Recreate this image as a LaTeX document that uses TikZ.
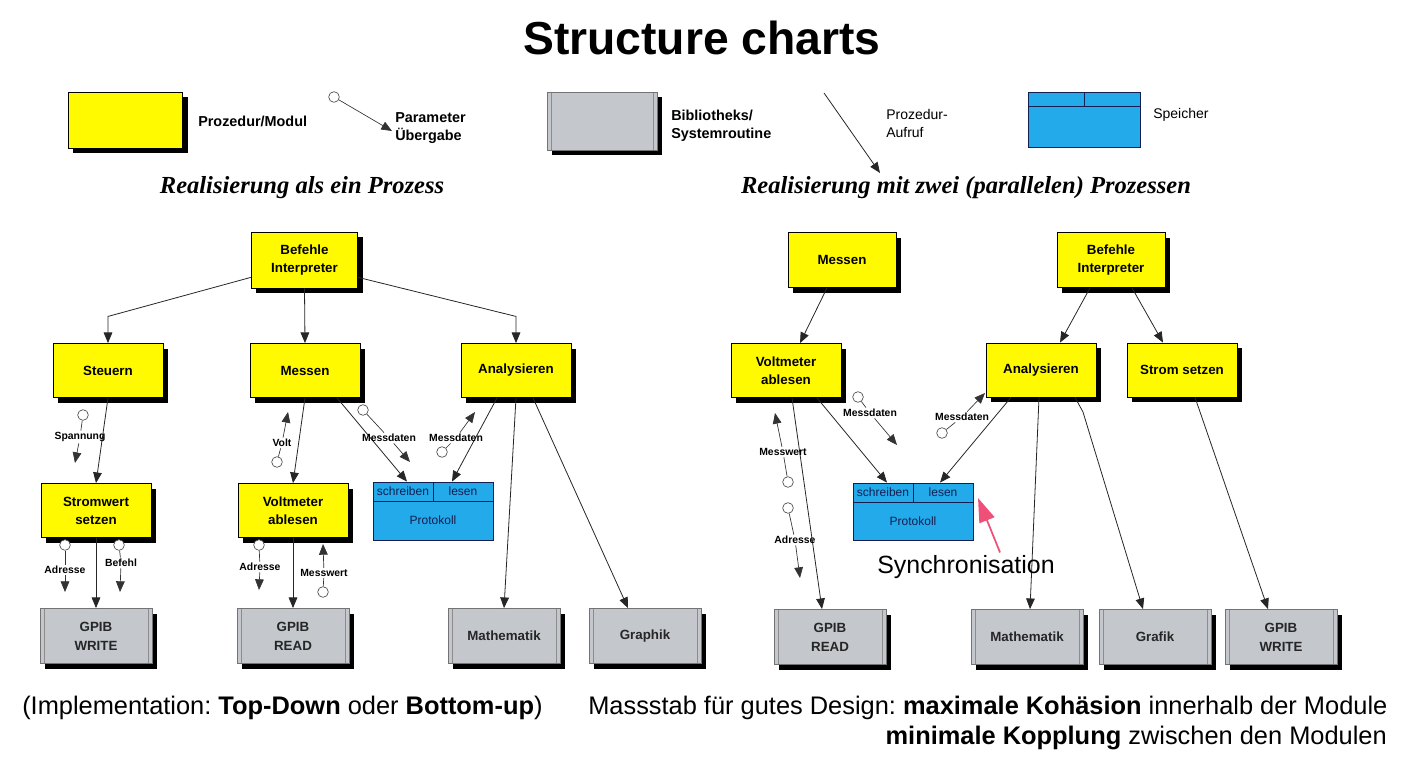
\documentclass[tikz,border=0pt]{standalone}
\usepackage{fontspec}
\setmainfont{Liberation Sans}
\newfontfamily\tnr{Liberation Serif}
\usetikzlibrary{arrows.meta,shadows,calc}
\definecolor{ylw}{RGB}{255,250,0}
\definecolor{blu}{RGB}{35,170,235}
\definecolor{navy}{RGB}{20,30,80}
\definecolor{libgray}{RGB}{196,200,205}
\definecolor{synpink}{RGB}{238,80,120}
\frenchspacing
\begin{document}
\begin{tikzpicture}[x=0.75pt,y=-0.75pt,
 modul/.style={draw=black,line width=0.6pt,fill=ylw,minimum width=82.5pt,minimum height=40.5pt,align=center,inner sep=1pt,
   font=\fontsize{10}{13.5}\selectfont\bfseries,
   drop shadow={shadow xshift=3.75pt,shadow yshift=-3.75pt,fill=black,opacity=1}},
 lib/.style={draw=black!55,line width=0.6pt,fill=libgray,minimum width=84pt,minimum height=41.25pt,align=center,inner sep=1pt,
   font=\fontsize{10}{14.25}\selectfont\bfseries,text=black!85,
   drop shadow={shadow xshift=3.75pt,shadow yshift=-3.75pt,fill=black,opacity=1},
   path picture={\draw[black!45,line width=0.5pt]
     ([xshift=3pt]path picture bounding box.north west) -- ([xshift=3pt]path picture bounding box.south west)
     ([xshift=-3pt]path picture bounding box.north east) -- ([xshift=-3pt]path picture bounding box.south east);}},
 cell/.style={draw=navy,line width=0.6pt,fill=blu,text=navy,inner sep=0pt,font=\fontsize{9}{10}\selectfont},
 call/.style={draw=black!85,line width=0.6pt,-{Triangle[length=8pt,width=6.5pt]}},
 pline/.style={draw=black!80,line width=0.5pt},
 parr/.style={pline,-{Triangle[length=8pt,width=6.5pt]}},
 pcirc/.style={circle,draw=black!70,fill=white,line width=0.5pt,minimum size=8pt,inner sep=0pt},
 plab/.style={font=\fontsize{7.8}{9}\selectfont\bfseries,inner sep=1pt},
 lgd/.style={font=\fontsize{10.8}{13.5}\selectfont\bfseries,align=left,anchor=west,inner sep=0pt},
 lgdr/.style={font=\fontsize{10.5}{13.5}\selectfont,align=left,anchor=west,inner sep=0pt},
 subt/.style={font=\tnr\bfseries\itshape\fontsize{18.4}{22}\selectfont},
 bottxt/.style={font=\fontsize{19.05}{22}\selectfont,inner sep=0pt}
]
\useasboundingbox (0,0) rectangle (1426,759);

% Title
\node[font=\bfseries\fontsize{34.7}{40}\selectfont] (title) at (702,38) {Structure charts};

% ---------------- Legend ----------------
\node[modul,minimum width=86pt,minimum height=42pt] (lgmod) at (125.5,120) {};
\node[lgd] (lgmodt) at (198,121) {Prozedur/Modul};
\node[pcirc] (lgpc) at (334,97) {};
\coordinate (lgpt) at (392,131);
\draw[parr] (lgpc) -- (lgpt);
\node[lgd] (lgpt1) at (395,128) {Parameter\\Übergabe};
\node[lib,minimum width=82.5pt,minimum height=43.5pt] (lglib) at (602,121) {};
\node[lgd] (lglibt) at (671,125.5) {Bibliotheks/\\Systemroutine};
\coordinate (lgcs) at (824,93);
\coordinate (lgce) at (880,173);
\draw[call] (lgcs) -- (lgce);
\node[lgdr] (lgcallt) at (886,123.5) {Prozedur-\\Aufruf};
\node[cell,minimum width=42pt,minimum height=10.5pt] (lgs1) at (1056,99) {};
\node[cell,minimum width=42pt,minimum height=10.5pt] (lgs2) at (1112,99) {};
\node[cell,minimum width=84pt,minimum height=30.75pt] (lgs3) at (1084,126.5) {};
\node[lgdr] (lgst) at (1153,115) {Speicher};

% Subtitles
\node[subt] (sub1) at (302,188) {Realisierung als ein Prozess};
\node[subt] (sub2) at (966,188) {Realisierung mit zwei (parallelen) Prozessen};

% ---------------- Left diagram ----------------
\node[modul,minimum width=80pt,minimum height=42pt] (biL) at (304.5,260) {Befehle\\Interpreter};
\node[modul] (steu) at (108,370.5) {Steuern};
\node[modul] (messL) at (305,370.5) {Messen};
\node[modul] (anaL) at (516,370.5) {Analysieren};
\node[modul] (strom) at (96,510.5) {Stromwert\\setzen};
\node[modul] (voltL) at (293,510.5) {Voltmeter\\ablesen};
\node[cell,minimum width=45pt,minimum height=14.25pt] (schL) at (403,491.5) {schreiben};
\node[cell,minimum width=45pt,minimum height=14.25pt] (lesL) at (463,491.5) {lesen};
\node[cell,minimum width=90pt,minimum height=29.25pt] (protL) at (433,520.5) {Protokoll};
\node[lib] (gwL) at (96,636) {GPIB\\WRITE};
\node[lib] (grL) at (293,636) {GPIB\\READ};
\node[lib] (mathL) at (504,636) {Mathematik};
\node[lib] (graph) at (645,636) {Graphik};

\draw[call] ([yshift=8.25pt]biL.south west) -- ([yshift=20pt]steu.north) -- (steu.north);
\draw[call] (biL.south) -- (messL.north);
\draw[call] ([yshift=8.25pt]biL.south east) -- ([yshift=20pt]anaL.north) -- (anaL.north);
\draw[call] (steu.south) -- (strom.north);
\draw[call] (strom.south) -- (gwL.north);
\draw[call] (messL.south) -- (voltL.north);
\draw[call] (voltL.south) -- (grL.north);
\draw[call] ([xshift=24pt]messL.south) -- ([xshift=3pt]schL.north);
\draw[call] ([xshift=-14.25pt]anaL.south) -- ([xshift=-8.25pt]lesL.north);
\draw[call] (anaL.south) -- (mathL.north);
\draw[call] ([xshift=12.75pt]anaL.south) -- ([xshift=-12.75pt]graph.north);

% parameters left
\node[pcirc] (pc1) at (83,415) {};
\node[plab] (pl1) at (80,437) {Spannung};
\coordinate (pt1) at (75,463);
\draw[pline] (pc1) -- (pl1); \draw[parr] (pl1) -- (pt1);

\node[pcirc] (pc2) at (65,545) {};
\node[plab] (pl2) at (65,570) {Adresse};
\coordinate (pt2) at (65,592);
\draw[pline] (pc2) -- (pl2); \draw[parr] (pl2) -- (pt2);

\node[pcirc] (pc3) at (119,545) {};
\node[plab] (pl3) at (121,563) {Befehl};
\coordinate (pt3) at (120,592);
\draw[pline] (pc3) -- (pl3); \draw[parr] (pl3) -- (pt3);

\node[pcirc] (pc4) at (277,462) {};
\node[plab] (pl4) at (282,443) {Volt};
\coordinate (pt4) at (288,412);
\draw[pline] (pc4) -- (pl4); \draw[parr] (pl4) -- (pt4);

\node[pcirc] (pc5) at (259,545) {};
\node[plab] (pl5) at (260,567) {Adresse};
\coordinate (pt5) at (259,590);
\draw[pline] (pc5) -- (pl5); \draw[parr] (pl5) -- (pt5);

\node[pcirc] (pc6) at (323,592) {};
\node[plab] (pl6) at (324,573) {Messwert};
\coordinate (pt6) at (323,544);
\draw[pline] (pc6) -- (pl6); \draw[parr] (pl6) -- (pt6);

\node[pcirc] (pc7) at (363,410) {};
\node[plab] (pl7) at (389,438) {Messdaten};
\coordinate (pt7) at (410,462);
\draw[pline] (pc7) -- (pl7); \draw[parr] (pl7) -- (pt7);

\node[pcirc] (pc8) at (442,452) {};
\node[plab] (pl8) at (456,438) {Messdaten};
\coordinate (pt8) at (475,412);
\draw[pline] (pc8) -- (pl8); \draw[parr] (pl8) -- (pt8);

% ---------------- Right diagram ----------------
\node[modul,minimum width=81pt,minimum height=41.25pt] (messR) at (842,260) {Messen};
\node[modul,minimum width=81pt,minimum height=41.25pt] (biR) at (1111,260) {Befehle\\Interpreter};
\node[modul] (voltR) at (786,370.5) {Voltmeter\\ablesen};
\node[modul] (anaR) at (1041,370) {Analysieren};
\node[modul] (stromR) at (1182,370) {Strom setzen};
\node[cell,minimum width=45pt,minimum height=14.25pt] (schR) at (883,492.5) {schreiben};
\node[cell,minimum width=45pt,minimum height=14.25pt] (lesR) at (943,492.5) {lesen};
\node[cell,minimum width=90pt,minimum height=28.5pt] (protR) at (913,521) {Protokoll};
\node[lib] (grR) at (830,637) {GPIB\\READ};
\node[lib] (mathR) at (1027,637) {Mathematik};
\node[lib] (grafik) at (1155,637) {Grafik};
\node[lib] (gwR) at (1281,637) {GPIB\\WRITE};

\draw[call] ([xshift=-11.25pt]messR.south) -- ([xshift=10.5pt]voltR.north);
\draw[call] ([xshift=4.5pt]voltR.south) -- ([xshift=-6pt]grR.north);
\draw[call] ([xshift=23.25pt]voltR.south) -- ([xshift=3pt]schR.north);
\draw[call] ([xshift=-22.5pt]anaR.south) -- ([xshift=-2.25pt]lesR.north);
\draw[call] ([xshift=-15.75pt]biR.south) -- ([xshift=14.25pt]anaR.north);
\draw[call] ([xshift=15.75pt]biR.south) -- ([xshift=-14.25pt]stromR.north);
\draw[call] ([xshift=-1.5pt]anaR.south) -- ([xshift=2.25pt]mathR.north);
\draw[call] ([xshift=25.5pt]anaR.south) -- ([xshift=31.5pt,yshift=-11pt]anaR.south) -- ([xshift=-9pt]grafik.north);
\draw[call] ([xshift=9.75pt]stromR.south) -- ([xshift=-9.75pt]gwR.north);

% parameters right
\node[pcirc] (pc9) at (788,482) {};
\node[plab] (pl9) at (783,452) {Messwert};
\coordinate (pt9) at (775,413);
\draw[pline] (pc9) -- (pl9); \draw[parr] (pl9) -- (pt9);

\node[pcirc] (pc10) at (788,508) {};
\node[plab] (pl10) at (795,540) {Adresse};
\coordinate (pt10) at (800,578);
\draw[pline] (pc10) -- (pl10); \draw[parr] (pl10) -- (pt10);

\node[pcirc] (pc11) at (858,397) {};
\node[plab] (pl11) at (870,413) {Messdaten};
\coordinate (pt11) at (897,445);
\draw[pline] (pc11) -- (pl11); \draw[parr] (pl11) -- (pt11);

\node[pcirc] (pc12) at (942,433) {};
\node[plab] (pl12) at (962,417) {Messdaten};
\coordinate (pt12) at (985,393);
\draw[pline] (pc12) -- (pl12); \draw[parr] (pl12) -- (pt12);

% Synchronisation
\node[font=\fontsize{18.7}{22}\selectfont,inner sep=0pt] (sync) at (966,567) {Synchronisation};
\coordinate (syT) at (978,498);
\draw[synpink,line width=1.3pt,-{Triangle[length=18pt,width=12pt]}] ([xshift=25.5pt,yshift=2pt]sync.north) -- (syT);

% Bottom text
\node[bottxt,anchor=west] (b1) at (22,708) {(Implementation: \textbf{Top-Down} oder \textbf{Bottom-up})};
\node[bottxt,anchor=west] (b2) at (588,708) {Massstab für gutes Design: \textbf{maximale Kohäsion} innerhalb der Module};
\node[bottxt,anchor=east] (b3) at (1387,738) {\textbf{minimale Kopplung} zwischen den Modulen};
\end{tikzpicture}
\end{document}
